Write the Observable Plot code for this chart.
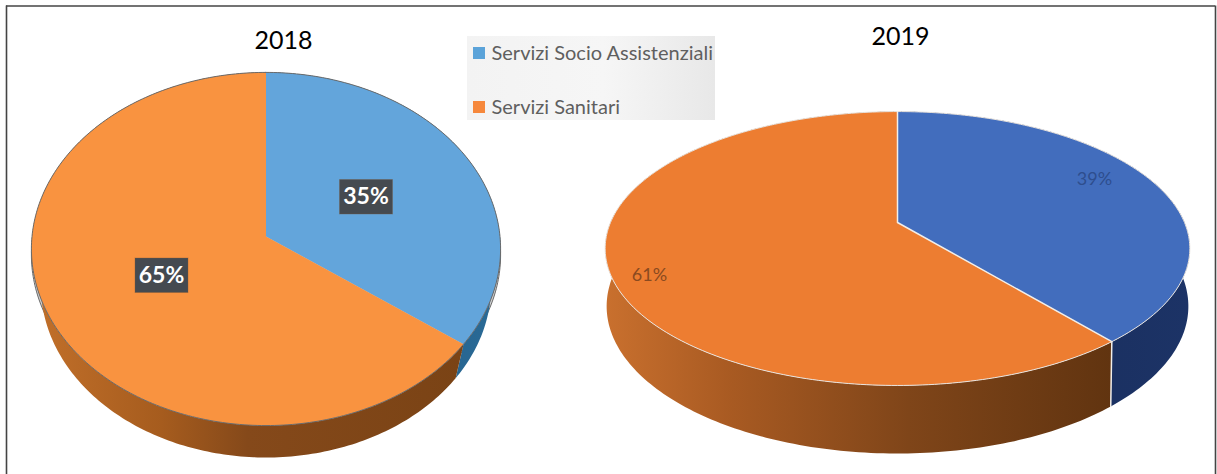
<!DOCTYPE html>
<html><head><meta charset="utf-8">
<script src="https://cdn.jsdelivr.net/npm/d3@7"></script>
<script src="https://cdn.jsdelivr.net/npm/@observablehq/plot@0.6"></script>
<style>html,body{margin:0;padding:0;background:#fff}svg{display:block}</style>
</head><body><div id="chart"></div>
<script>
const categories = ["Servizi Socio Assistenziali", "Servizi Sanitari"];
const years = ["2018", "2019"];
const shares2018 = [35, 65];
const shares2019 = [39, 61];

const W = 1217, H = 474;
const layouts = [
  {cx:265.5, cy:236, A:234, B:175.7, k:.0707, d:36.7, s:.96, tx:283, ty:40,
   top:["#63A5DB","#F99340"], wall:["url(#w18b)","url(#w18o)"], edge:"#6b6b6b", sep:null,
   lab:[{x:365.5,y:196.5,c:"#fff",fs:23},{x:161,y:275,c:"#fff",fs:23}], weight:700, box:true, halo:true},
  {cx:897, cy:222, A:287, B:132, k:.19, d:55.8, s:.995, tx:900, ty:36,
   top:["#426DBD","#ED7D31"], wall:["url(#w19b)","url(#w19o)"], edge:"#e9e4df", sep:"#f2eee9",
   lab:[{x:1094,y:179,c:"#2E4E8E",fs:18},{x:649,y:275,c:"#8A4A20",fs:18}], weight:400, box:false, halo:false}
];
const allShares = [shares2018, shares2019];

// Rim of a tilted disc: fraction f of the turn, clockwise from 12 o'clock
const rim = (p, f) => {
  const a = 2*Math.PI*f, u = Math.sin(a), v = -Math.cos(a), w = 1 - p.k*v;
  return {x:p.cx + p.A*u/w, y:p.cy + p.B*v/w};
};
const base = (p, f) => {
  const a = 2*Math.PI*f, u = Math.sin(a), v = -Math.cos(a), w = 1 - p.k*v;
  return {x:p.cx + p.s*p.A*u/w, y:p.cy + (p.d + p.s*p.B*v)/w};
};
const arc = (fn, p, f0, f1) => {
  const n = Math.max(2, Math.ceil((f1-f0)*360)), out = [];
  for (let i=0;i<=n;i++) out.push(fn(p, f0+(f1-f0)*i/n));
  return out;
};
const closed = a => [...a, a[0]];

const marks = [];
const grad = (id, stops) => `<linearGradient id="${id}" x1="0" x2="1" y1="0" y2="0">` +
  stops.map(([o,c]) => `<stop offset="${o}" stop-color="${c}"/>`).join("") + `</linearGradient>`;
marks.push(() => {
  const g = document.createElementNS("http://www.w3.org/2000/svg","defs");
  g.innerHTML =
    grad("w18o",[[0,"#C2702A"],[.3,"#A65C1E"],[.5,"#85491A"],[1,"#7A4315"]]) +
    grad("w18b",[[0,"#1C5680"],[1,"#2A6A96"]]) +
    grad("w19o",[[0,"#C9702E"],[.25,"#A85A22"],[.6,"#7F4519"],[1,"#613410"]]) +
    grad("w19b",[[0,"#182B58"],[1,"#1C3366"]]) +
    grad("lg",[[0,"#F3F3F3"],[.55,"#F6F6F6"],[1,"#E8E8E8"]]);
  return g;
});

// frame
marks.push(Plot.ruleX([6,1215],{y1:5.5,y2:H,stroke:"#444",strokeWidth:1.6}));
marks.push(Plot.ruleY([5.5],{x1:6,x2:1215,stroke:"#444",strokeWidth:1.6}));

layouts.forEach((p,i) => {
  const shares = allShares[i], tot = d3.sum(shares);
  const cuts = [0, shares[0]/tot, 1];
  const full = arc(rim,p,0,1);
  if (p.halo) {
    const shadow = full.map(q => ({x:q.x, y:q.y+6}));
    marks.push(Plot.line(closed(shadow),{x:"x",y:"y",fill:"#CFCFCF",stroke:"#6b6b6b",strokeWidth:1}));
  }
  shares.forEach((_,j) => {
    const poly = [...arc(rim,p,cuts[j],cuts[j+1]), ...arc(base,p,cuts[j],cuts[j+1]).reverse()];
    marks.push(Plot.line(closed(poly),{x:"x",y:"y",fill:p.wall[j],stroke:"none"}));
  });
  if (p.sep) {
    marks.push(Plot.line([rim(p,cuts[1]),base(p,cuts[1])],{x:"x",y:"y",stroke:p.sep,strokeWidth:1.5}));
  }
  shares.forEach((_,j) => {
    const c = {x:p.cx,y:p.cy};
    const poly = [c, ...arc(rim,p,cuts[j],cuts[j+1])];
    marks.push(Plot.line(closed(poly),{x:"x",y:"y",fill:p.top[j],stroke:"none"}));
  });
  marks.push(Plot.line(closed(full),{x:"x",y:"y",stroke:p.edge,strokeWidth:1}));
  if (p.sep) {
    marks.push(Plot.line([rim(p,0),{x:p.cx,y:p.cy},rim(p,cuts[1])],{x:"x",y:"y",stroke:p.sep,strokeWidth:1.5}));
  }
  const labs = shares.map((v,j)=>({...p.lab[j], t:v+"%"}));
  if (p.box) {
    marks.push(Plot.rect(labs,{x1:d=>d.x-26,x2:d=>d.x+27,y1:d=>d.y-17,y2:d=>d.y+17.5,fill:"#454A50",stroke:"#7a5a3a",strokeOpacity:.35,strokeWidth:1}));
  }
  marks.push(Plot.text(labs,{x:"x",y:"y",text:"t",fill:d=>d.c,fontSize:d=>d.fs,fontWeight:p.weight,fontFamily:"Lato"}));
  marks.push(Plot.text([years[i]],{x:()=>p.tx,y:()=>p.ty,text:d=>d,fill:"#000",fontSize:25,fontFamily:"Lato"}));
});

// legend
const swatchColors = ["#5BA3D9","#F6883C"];
const legend = categories.map((c,i)=>({c,i,col:swatchColors[i]}));
marks.push(Plot.rect([0],{x1:()=>467,x2:()=>715,y1:()=>36,y2:()=>120,fill:"url(#lg)"}));
marks.push(Plot.rect(legend,{x1:()=>473,x2:()=>485,y1:d=>47+d.i*54,y2:d=>59+d.i*54,fill:"col"}));
marks.push(Plot.text(legend,{x:()=>491,y:d=>53+d.i*54,text:"c",textAnchor:"start",fill:"#5F5F5F",fontSize:20,fontFamily:"Lato"}));

const chart = Plot.plot({
  width:W, height:H, margin:0,
  x:{domain:[0,W],range:[0,W],axis:null},
  y:{domain:[0,H],range:[0,H],axis:null},
  style:{background:"#fff"},
  marks
});
document.getElementById("chart").append(chart);
</script></body></html>
